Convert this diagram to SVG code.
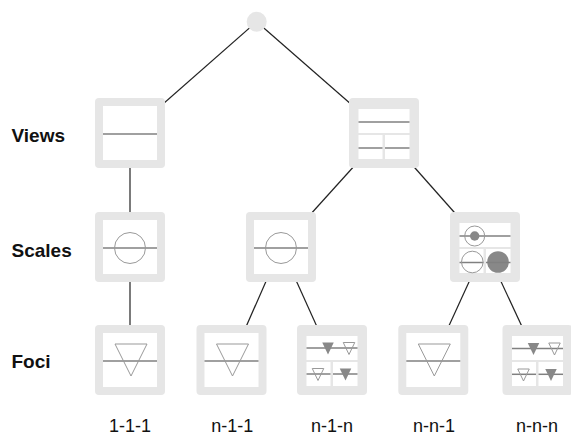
<svg xmlns="http://www.w3.org/2000/svg" width="571" height="437" viewBox="0 0 571 437">
<style>
.box{fill:#e6e6e6}
.pane{fill:#fff}
.ln{stroke:#808080;stroke-width:1.5;fill:none}
.ring{fill:none;stroke:#999;stroke-width:1}
.open{fill:none;stroke:#999;stroke-width:1}
.solid{fill:#888}
.conn{stroke:#222;stroke-width:1.2;fill:none}
.lbl{font-family:"Liberation Sans",Arial,sans-serif;font-size:19px;font-weight:bold;fill:#111}
.leaf{font-family:"Liberation Sans",Arial,sans-serif;font-size:18px;fill:#111;text-anchor:middle}
</style>
<defs>
<rect id="frame" class="box" x="0" y="0" width="70" height="70" rx="4"/>
<g id="single">
<use href="#frame"/>
<rect class="pane" x="8" y="8" width="54" height="54"/>
<line class="ln" x1="8" y1="36" x2="62" y2="36"/>
</g>
<g id="multi">
<use href="#frame"/>
<rect class="pane" x="9.5" y="11" width="51" height="24"/>
<rect class="pane" x="9.5" y="37" width="24" height="24"/>
<rect class="pane" x="36" y="37" width="24.5" height="24"/>
</g>
</defs>

<g id="connectors">
<line class="conn" x1="256.7" y1="21.7" x2="130" y2="133"/>
<line class="conn" x1="256.7" y1="21.7" x2="384" y2="133"/>
<line class="conn" x1="130" y1="133" x2="130" y2="247"/>
<line class="conn" x1="130" y1="247" x2="130" y2="360"/>
<line class="conn" x1="384" y1="133" x2="281" y2="247"/>
<line class="conn" x1="384" y1="133" x2="485" y2="247"/>
<line class="conn" x1="281" y1="247" x2="231.5" y2="360"/>
<line class="conn" x1="281" y1="247" x2="332" y2="360"/>
<line class="conn" x1="485" y1="247" x2="433.3" y2="360"/>
<line class="conn" x1="485" y1="247" x2="537.5" y2="360"/>
</g>

<g id="root">
<circle class="box" cx="256.7" cy="21.7" r="10"/>
</g>

<g id="view-single" transform="translate(95,98)">
<use href="#single"/>
</g>

<g id="view-multi" transform="translate(349,98)">
<use href="#multi"/>
<line class="ln" x1="9.5" y1="24" x2="60.5" y2="24"/>
<line class="ln" x1="9.5" y1="50" x2="33.5" y2="50"/>
<line class="ln" x1="36" y1="50" x2="60.5" y2="50"/>
</g>

<g id="scale-1" transform="translate(95,212)">
<use href="#single"/>
<circle class="ring" cx="35" cy="36" r="15.5"/>
</g>

<g id="scale-2" transform="translate(246,212)">
<use href="#single"/>
<circle class="ring" cx="35" cy="36" r="15.5"/>
</g>

<g id="scale-3" transform="translate(450,212)">
<use href="#multi"/>
<line class="ln" x1="9.5" y1="24" x2="60.5" y2="24"/>
<circle class="ring" cx="24.7" cy="24" r="10"/>
<circle class="solid" cx="24.7" cy="24" r="4.7"/>
<line class="ln" x1="9.5" y1="50.5" x2="33.5" y2="50.5"/>
<circle class="ring" cx="22.3" cy="50" r="10.8"/>
<circle class="solid" cx="48" cy="50" r="10.8"/>
<line class="ln" x1="36" y1="50.5" x2="60.5" y2="50.5"/>
</g>

<g id="focus-111" transform="translate(95,325)">
<use href="#single"/>
<polygon class="open" points="20,19 52,19 36,51"/>
</g>

<g id="focus-n11" transform="translate(196.5,325)">
<use href="#single"/>
<polygon class="open" points="20,19 52,19 36,51"/>
</g>

<g id="focus-n1n" transform="translate(297,325)">
<use href="#multi"/>
<line class="ln" x1="9.5" y1="23" x2="60.5" y2="23"/>
<polygon class="solid" points="25.25,17.5 36.75,17.5 31,29.5"/>
<polygon class="open" points="46.25,17.5 57.75,17.5 52,29.5"/>
<line class="ln" x1="9.5" y1="49" x2="33.5" y2="49"/>
<line class="ln" x1="36" y1="49" x2="60.5" y2="49"/>
<polygon class="open" points="15.25,43.5 26.75,43.5 21,55.5"/>
<polygon class="solid" points="42.75,43.5 54.25,43.5 48.5,55.5"/>
</g>

<g id="focus-nn1" transform="translate(398.3,325)">
<use href="#single"/>
<polygon class="open" points="20,19 52,19 36,51"/>
</g>

<g id="focus-nnn" transform="translate(502.5,325)">
<use href="#multi"/>
<line class="ln" x1="9.5" y1="23.5" x2="60.5" y2="23.5"/>
<polygon class="solid" points="25.25,18 36.75,18 31,30"/>
<polygon class="open" points="46.25,18 57.75,18 52,30"/>
<line class="ln" x1="9.5" y1="49.3" x2="33.5" y2="49.3"/>
<line class="ln" x1="36" y1="49.3" x2="60.5" y2="49.3"/>
<polygon class="open" points="15.25,44 26.75,44 21,56"/>
<polygon class="solid" points="42.75,44 54.25,44 48.5,56"/>
</g>

<g id="labels">
<text class="lbl" x="11.5" y="142">Views</text>
<text class="lbl" x="11.5" y="256.5">Scales</text>
<text class="lbl" x="11.5" y="368">Foci</text>
<text class="leaf" x="130" y="432">1-1-1</text>
<text class="leaf" x="232.3" y="432">n-1-1</text>
<text class="leaf" x="332" y="432">n-1-n</text>
<text class="leaf" x="434" y="432">n-n-1</text>
<text class="leaf" x="537" y="432">n-n-n</text>
</g>
</svg>
